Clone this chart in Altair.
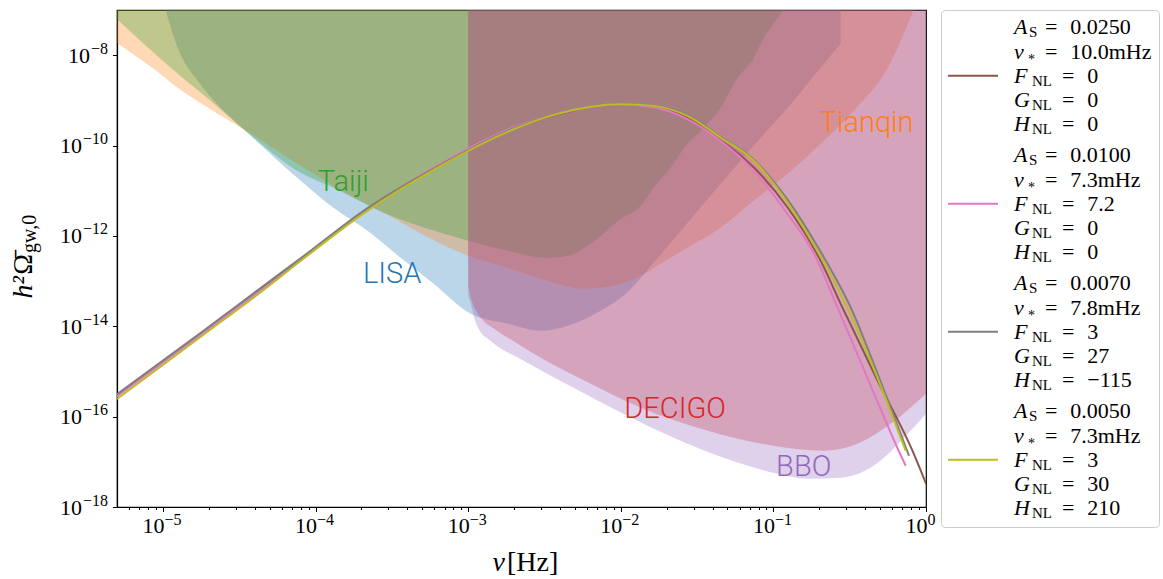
import altair as alt
import pandas as pd

# ---------------- detector sensitivity curves: frequency [Hz], h^2 Omega ----------------
lisa_f = [1.04e-5, 1.25e-5, 1.69e-5, 2.39e-5, 3.59e-5, 7.99e-5, 1.31e-4, 2.19e-4, 3.61e-4, 5.94e-4,
          1.04e-3, 1.82e-3, 2.99e-3, 4.91e-3, 7.38e-3, 1.08e-2, 1.64e-2, 2.74e-2, 4.51e-2, 7.43e-2,
          1.24e-1, 2.04e-1, 2.76e-1]
lisa_v = [1.0e-7, 1.45e-8, 2.70e-9, 6.82e-10, 1.91e-10, 1.66e-11, 4.19e-12, 1.30e-12, 3.27e-13, 8.71e-14,
          1.89e-14, 1.14e-14, 7.94e-15, 1.14e-14, 2.20e-14, 5.24e-14, 2.54e-13, 1.95e-12, 1.42e-11, 9.85e-11,
          6.82e-10, 5.24e-9, 1.78e-8]

tianqin_f = [5.0e-6, 8.69e-6, 1.25e-5, 2.28e-5, 3.59e-5, 7.99e-5, 1.70e-4, 2.79e-4, 6.61e-4, 1.0e-3,
             1.82e-3, 2.99e-3, 5.71e-3, 8.97e-3, 1.35e-2, 1.83e-2, 2.74e-2, 4.51e-2, 7.43e-2, 1.24e-1,
             2.04e-1, 3.36e-1, 5.61e-1, 7.15e-1, 8.30e-1]
tianqin_v = [1.87e-8, 4.98e-9, 1.89e-9, 5.03e-10, 2.01e-10, 3.56e-11, 7.71e-12, 3.24e-12, 6.68e-13, 3.63e-13,
             1.97e-13, 1.12e-13, 6.76e-14, 7.87e-14, 1.31e-13, 2.42e-13, 5.46e-13, 1.51e-12, 5.98e-12, 2.37e-11,
             1.09e-10, 5.86e-10, 5.24e-9, 2.96e-8, 1.0e-7]

taiji_f = [5.0e-6, 7.48e-6, 1.25e-5, 2.05e-5, 3.59e-5, 7.99e-5, 1.31e-4, 2.79e-4, 6.61e-4, 1.0e-3,
           1.82e-3, 3.32e-3, 4.49e-3, 6.35e-3, 1.0e-2, 1.35e-2, 1.64e-2, 2.12e-2, 2.74e-2, 3.49e-2,
           4.51e-2, 5.83e-2, 7.43e-2, 8.26e-2, 1.17e-1]
taiji_v = [6.35e-8, 1.78e-8, 3.86e-9, 9.75e-10, 1.91e-10, 2.49e-11, 1.16e-11, 3.24e-12, 1.17e-12, 7.80e-13,
           4.68e-13, 3.27e-13, 3.63e-13, 6.68e-13, 2.39e-12, 4.64e-12, 1.16e-11, 3.21e-11, 1.09e-10, 2.46e-10,
           6.82e-10, 3.15e-9, 8.7e-9, 1.78e-8, 1.0e-7]

decigo_f = [1.0e-3, 1.04e-3, 1.10e-3, 1.21e-3, 1.51e-3, 1.82e-3, 2.99e-3, 6.35e-3, 1.35e-2, 3.71e-2,
            1.0e-1, 2.14e-1, 3.56e-1, 5.87e-1, 1.0]
decigo_v = [7.87e-14, 4.28e-14, 2.56e-14, 1.54e-14, 8.37e-15, 5.57e-15, 2.01e-15, 5.35e-16, 1.57e-16, 4.88e-17,
            2.27e-17, 1.76e-17, 2.52e-17, 6.97e-17, 3.21e-16]

bbo_f = [1.0e-3, 1.04e-3, 1.10e-3, 1.17e-3, 1.40e-3, 2.31e-3, 4.91e-3, 1.04e-2, 2.22e-2, 4.72e-2,
         1.0e-1, 1.68e-1, 2.76e-1, 4.54e-1, 7.59e-1, 1.0]
bbo_v = [4.73e-14, 3.15e-14, 1.47e-14, 8.81e-15, 4.78e-15, 1.73e-15, 4.36e-16, 1.16e-16, 3.41e-17, 1.23e-17,
         5.74e-18, 4.23e-18, 4.45e-18, 8.20e-18, 4.19e-17, 1.16e-16]

# ---------------- GW spectra ----------------
s1_f = [5.0e-6, 1.77e-5, 5.31e-5, 7.99e-5, 2.18e-4, 6.61e-4, 1.81e-3, 3.84e-3, 1.0e-2, 1.64e-2,
        2.73e-2, 4.51e-2, 7.46e-2, 1.24e-1, 2.04e-1, 2.83e-1, 4.75e-1, 8.15e-1, 1.0]
s1_v = [2.97e-16, 6.83e-15, 1.10e-13, 3.04e-13, 3.88e-12, 3.65e-11, 2.06e-10, 4.90e-10, 7.95e-10, 7.18e-10,
        4.10e-10, 1.34e-10, 3.26e-11, 4.25e-12, 2.81e-13, 2.61e-14, 6.89e-16, 1.76e-17, 3.27e-18]

s2_f = [5.0e-6, 1.77e-5, 5.31e-5, 7.99e-5, 2.18e-4, 6.61e-4, 1.81e-3, 3.84e-3, 1.0e-2, 1.64e-2,
        2.73e-2, 4.51e-2, 7.46e-2, 1.24e-1, 1.85e-1, 2.63e-1, 4.21e-1, 6.62e-1, 7.36e-1]
s2_v = [2.80e-16, 6.49e-15, 1.02e-13, 2.88e-13, 3.78e-12, 4.00e-11, 2.22e-10, 5.03e-10, 7.95e-10, 7.00e-10,
        3.84e-10, 1.27e-10, 2.75e-11, 3.03e-12, 3.96e-13, 2.61e-14, 6.22e-16, 1.76e-17, 8.20e-18]

s3_f = [5.0e-6, 1.77e-5, 5.31e-5, 7.99e-5, 2.18e-4, 6.61e-4, 1.81e-3, 3.84e-3, 1.0e-2, 1.64e-2,
        2.73e-2, 4.51e-2, 7.46e-2, 1.24e-1, 2.04e-1, 3.21e-1, 4.90e-1, 7.74e-1]
s3_v = [3.13e-16, 7.18e-15, 1.15e-13, 3.19e-13, 4.08e-12, 3.74e-11, 2.11e-10, 5.03e-10, 8.15e-10, 7.55e-10,
        4.78e-10, 1.56e-10, 4.83e-11, 6.29e-12, 4.45e-13, 2.61e-14, 7.63e-16, 1.36e-17]

s4_f = [5.0e-6, 1.77e-5, 5.31e-5, 7.99e-5, 2.18e-4, 6.61e-4, 1.81e-3, 3.84e-3, 1.0e-2, 1.64e-2,
        2.73e-2, 4.51e-2, 7.46e-2, 1.24e-1, 1.94e-1, 3.05e-1, 4.75e-1, 7.36e-1]
s4_v = [2.45e-16, 5.86e-15, 9.41e-14, 2.81e-13, 3.59e-12, 3.56e-11, 2.01e-10, 5.03e-10, 8.24e-10, 7.55e-10,
        4.54e-10, 1.50e-10, 4.59e-11, 5.40e-12, 4.68e-13, 2.61e-14, 8.03e-16, 1.76e-17]

# ---------------- detector labels ----------------
label_names = ["Taiji", "LISA", "Tianqin", "DECIGO", "BBO"]
label_f = [1.52e-4, 3.18e-4, 0.408, 2.27e-2, 0.158]
label_v = [9.95e-12, 9.16e-14, 2.01e-10, 9.46e-17, 4.93e-18]

# ---------------- legend values ----------------
leg_As = ["0.0250", "0.0100", "0.0070", "0.0050"]
leg_nu = ["10.0", "7.3", "7.8", "7.3"]
leg_F = ["0", "7.2", "3", "3"]
leg_G = ["0", "0", "27", "30"]
leg_H = ["0", "0", "\u2212115", "210"]
series_names = ["s1", "s2", "s3", "s4"]

# ---------------- ticks (mantissa "10" + exponent) ----------------
x_major = [1e-5, 1e-4, 1e-3, 1e-2, 1e-1, 1.0]
x_exp_labels = ["\u22125", "\u22124", "\u22123", "\u22122", "\u22121", "0"]
y_major = [1e-18, 1e-16, 1e-14, 1e-12, 1e-10, 1e-8]
y_exp_labels = ["\u221218", "\u221216", "\u221214", "\u221212", "\u221210", "\u22128"]
x_minor = [m * d for d in [1e-6, 1e-5, 1e-4, 1e-3, 1e-2, 1e-1] for m in range(2, 10) if 5e-6 <= m * d < 1.0]
x_tick_values = sorted(x_major + x_minor)

# ---------------- styles ----------------
SERIF = "Liberation Serif"
SANS = "Roboto"
det_names = ["LISA", "Tianqin", "Taiji", "DECIGO", "BBO"]
det_colors = ["#1f77b4", "#ff7f0e", "#2ca02c", "#d62728", "#9467bd"]
line_colors = ["#8c564b", "#e377c2", "#7f7f7f", "#bcbd22"]
W, H = 809, 497


def is_major(values):
    return " || ".join(f"abs(datum.value / {v!r} - 1) < 1e-6" for v in values)


def label_expr(values, labels):
    expr = "''"
    for v, lab in reversed(list(zip(values, labels))):
        expr = f"abs(datum.value / {v!r} - 1) < 1e-6 ? '{lab}' : ({expr})"
    return expr


x_scale = alt.Scale(type="log", domain=[5e-6, 1.0], nice=False)
y_scale = alt.Scale(type="log", domain=[1e-18, 1e-7], nice=False)

x_tick_size = {"condition": {"test": is_major(x_major), "value": 4.5}, "value": 2.5}
common = dict(title=None, grid=False, labelFont=SERIF, labelColor="black", tickColor="black",
              domainColor="black", tickWidth=1, domainWidth=1.2, labelOverlap=False, labelBound=False)

x_axis_main = alt.Axis(
    orient="bottom", values=x_tick_values, labelExpr=label_expr(x_major, ["10"] * 6),
    tickSize=x_tick_size, labelFontSize=22, labelAlign="right", labelOffset=1,
    labelPadding=4, labelFlush=False, **common)
x_axis_exp = alt.Axis(
    orient="bottom", values=x_major, labelExpr=label_expr(x_major, x_exp_labels),
    tickSize=4.5, tickOpacity=0, domain=False, labelFontSize=16, labelAlign="left", labelOffset=1,
    labelPadding=0, labelFlush=False, **common)
y_axis_main = alt.Axis(
    orient="left", values=y_major, labelExpr=label_expr(y_major, ["10"] * 6), tickSize=4.5,
    labelFontSize=22, labelPadding={"condition": {"test": "datum.value > 1e-9", "value": 23}, "value": 31},
    **common)
y_axis_exp = alt.Axis(
    orient="left", values=y_major, labelExpr=label_expr(y_major, y_exp_labels), tickSize=4.5,
    tickOpacity=0, domain=False, labelFontSize=16, labelPadding=5, labelOffset=-7, **common)


def area(fs, vs, color, xa=None, ya=None):
    df = pd.DataFrame({"f": fs, "v": vs})
    return alt.Chart(df).mark_area(color=color, fillOpacity=0.3, interpolate="monotone", clip=True).encode(
        x=alt.X("f:Q", scale=x_scale, axis=xa),
        y=alt.Y("v:Q", scale=y_scale, axis=ya),
        y2=alt.datum(1e-7))


def line(fs, vs, color):
    df = pd.DataFrame({"f": fs, "v": vs})
    return alt.Chart(df).mark_line(color=color, strokeWidth=2, interpolate="monotone", clip=True).encode(
        x=alt.X("f:Q", scale=x_scale, axis=None),
        y=alt.Y("v:Q", scale=y_scale, axis=None))


areas = [
    area(lisa_f, lisa_v, det_colors[0], x_axis_main, y_axis_main),
    area(tianqin_f, tianqin_v, det_colors[1], x_axis_exp, y_axis_exp),
    area(taiji_f, taiji_v, det_colors[2]),
    area(decigo_f, decigo_v, det_colors[3]),
    area(bbo_f, bbo_v, det_colors[4]),
]
lines = [line(f, v, c) for f, v, c in zip([s1_f, s2_f, s3_f, s4_f], [s1_v, s2_v, s3_v, s4_v], line_colors)]

labels = alt.Chart(pd.DataFrame({"name": label_names, "f": label_f, "v": label_v})).mark_text(
    font=SANS, fontSize=29, fontWeight=300, align="center", baseline="alphabetic").encode(
    x=alt.X("f:Q", scale=x_scale, axis=None),
    y=alt.Y("v:Q", scale=y_scale, axis=None),
    text="name:N",
    color=alt.Color("name:N", scale=alt.Scale(domain=det_names, range=det_colors), legend=None),
)

one = pd.DataFrame({"k": [0]})


def txt(s, x, y, **kw):
    return alt.Chart(one).mark_text(text=s, **kw).encode(x=alt.value(x), y=alt.value(y))


# y title  h^2 Omega-bar_{gw,0}
yt1 = txt("h\u00b2", -85, 266, angle=270, align="right", baseline="alphabetic", font=SERIF, fontSize=28,
          fontStyle="italic", color="black")
yt2 = txt("\u03a9\u0304", -85, 244, angle=270, align="right", baseline="alphabetic", font=SERIF, fontSize=28,
          color="black")
yt3 = txt("gw,0", -81, 243, angle=270, align="left", baseline="alphabetic", font=SERIF, fontSize=20,
          color="black")
# x title  nu[Hz]
xt1 = txt("\u03bd", 388, 561, align="right", baseline="alphabetic", font=SERIF, fontSize=28,
          fontStyle="italic", color="black")
xt2 = txt("[Hz]", 390, 561, align="left", baseline="alphabetic", font=SERIF, fontSize=28, color="black")

main = alt.layer(*areas, *lines, labels, yt1, yt2, yt3, xt1, xt2).resolve_axis(
    x="independent", y="independent").properties(
    width=W, height=H, view=alt.ViewBackground(stroke="black", strokeWidth=1.2, fill="white"))

# ---------------- legend panel ----------------
ENTRY_STEP = 5.311
syms = ["A", "\u03bd", "F", "G", "H"]
subs = ["S", "*", "NL", "NL", "NL"]
rows = []
for e in range(4):
    vals = [leg_As[e], leg_nu[e] + "mHz", leg_F[e], leg_G[e], leg_H[e]]
    for j in range(5):
        rows.append({"entry": e, "j": j, "slot": e * ENTRY_STEP + j, "sym": syms[j], "sub": subs[j],
                     "val": "=\u2002\u200a" + vals[j]})
leg_df = pd.DataFrame(rows)
leg_y = alt.Scale(domain=[-0.726, 20.726], reverse=True, nice=False, zero=False)
LY = alt.Y("slot:Q", scale=leg_y, axis=None)

samples = alt.Chart(pd.DataFrame({"series": series_names,
                                  "slot": [e * ENTRY_STEP + 2 for e in range(4)]})).mark_rule(
    strokeWidth=2).encode(
    y=LY, x=alt.value(7), x2=alt.value(57),
    color=alt.Color("series:N", scale=alt.Scale(domain=series_names, range=line_colors), legend=None),
)
base_leg = alt.Chart(leg_df)
sym_t = base_leg.mark_text(align="left", baseline="middle", font=SERIF, fontSize=22, fontStyle="italic",
                           color="black").encode(y=LY, x=alt.value(73), text="sym:N")
sub_A = base_leg.transform_filter("datum.j == 0").mark_text(
    align="left", baseline="middle", font=SERIF, fontSize=15, dy=5, color="black").encode(
    y=LY, x=alt.value(88), text="sub:N")
sub_nu = base_leg.transform_filter("datum.j == 1").mark_text(
    align="left", baseline="middle", font=SERIF, fontSize=14, dy=8, color="black").encode(
    y=LY, x=alt.value(87), text="sub:N")
sub_NL = base_leg.transform_filter("datum.j >= 2").mark_text(
    align="left", baseline="middle", font=SERIF, fontSize=15, dy=5, color="black").encode(
    y=LY, x=alt.value(91), text="sub:N")
val_a = base_leg.transform_filter("datum.j < 2").mark_text(
    align="left", baseline="middle", font=SERIF, fontSize=22, color="black").encode(
    y=LY, x=alt.value(104), text="val:N")
val_b = base_leg.transform_filter("datum.j >= 2").mark_text(
    align="left", baseline="middle", font=SERIF, fontSize=22, color="black").encode(
    y=LY, x=alt.value(121), text="val:N")

legend = alt.layer(samples, sym_t, sub_A, sub_nu, sub_NL, val_a, val_b).properties(
    width=218, height=517,
    view=alt.ViewBackground(stroke="#cccccc", strokeWidth=1, cornerRadius=4, fill="white"))

chart = alt.hconcat(main, legend, spacing=15, bounds="flush").resolve_scale(
    color="independent").properties(
    padding={"left": 9, "top": 9, "right": 3, "bottom": 0}, background="white")

chart.save("out.html", embed_options={"renderer": "svg", "actions": False})
